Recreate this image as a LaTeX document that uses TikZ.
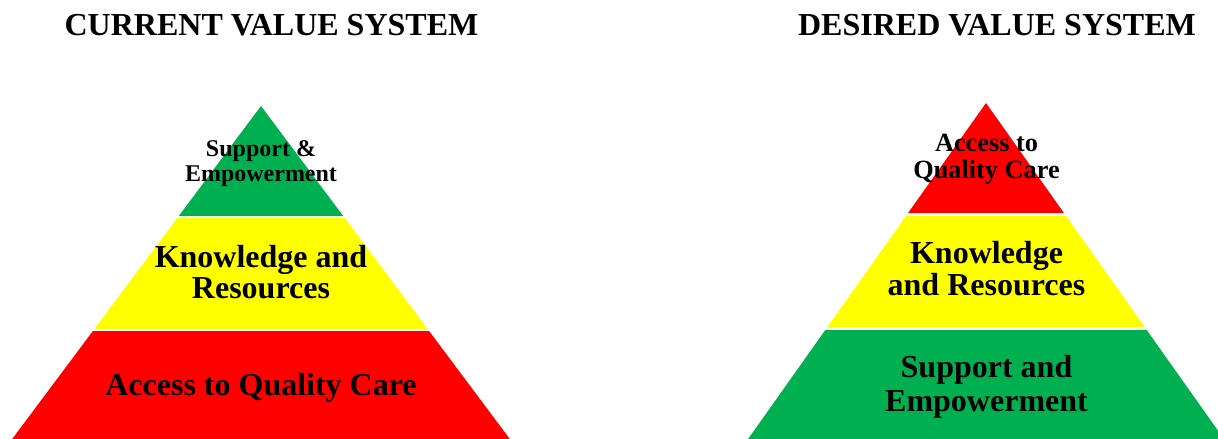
\documentclass[tikz,border=0pt]{standalone}
\usepackage{fontspec}
\setmainfont{Liberation Serif}
\definecolor{tgreen}{HTML}{00B050}
\definecolor{tyellow}{HTML}{FFFF00}
\definecolor{tred}{HTML}{FF0000}
\begin{document}
\begin{tikzpicture}[x=1pt,y=-1pt,
  title/.style={anchor=base,inner sep=0pt,font=\bfseries\fontsize{32}{32}\selectfont},
  big/.style={anchor=base,inner sep=0pt,font=\bfseries\fontsize{32}{32}\selectfont},
  small/.style={anchor=base,inner sep=0pt,font=\bfseries\fontsize{24}{24}\selectfont},
  mid/.style={anchor=base,inner sep=0pt,font=\bfseries\fontsize{26.3}{26.3}\selectfont}]
\useasboundingbox (0,0) rectangle (1218,439);
\clip (0,0) rectangle (1218,439);
\fill[white] (0,0) rectangle (1218,439);
% titles
\node[title] (t1) at (271.5,35) {CURRENT VALUE SYSTEM};
\node[title] (t2) at (997,35) {DESIRED VALUE SYSTEM};
% left pyramid
\fill[tgreen] (261,106) -- (343.2,216) -- (178.8,216) -- cycle;
\fill[tyellow] (177.3,218) -- (344.7,218) -- (427.6,329) -- (94.4,329) -- cycle;
\fill[tred] (92.9,331) -- (429.1,331) -- (509.8,439) -- (12.2,439) -- cycle;
% right pyramid
\fill[tred] (986,103) -- (1063.9,213) -- (908.1,213) -- cycle;
\fill[tyellow] (906,216) -- (1066,216) -- (1144.6,327) -- (827.4,327) -- cycle;
\fill[tgreen] (825.3,330) -- (1146.7,330) -- (1223.9,439) -- (748.1,439) -- cycle;
% left labels
\node[small] (la1) at (261,156) {Support \&};
\node[small] (la2) at (261,181) {Empowerment};
\node[big] (lb1) at (261,267) {Knowledge and};
\node[big] (lb2) at (261,298.5) {Resources};
\node[big] (lc1) at (261,395) {Access to Quality Care};
% right labels
\node[mid] (ra1) at (986.5,151) {Access to};
\node[mid] (ra2) at (986.5,178) {Quality Care};
\node[big] (rb1) at (986.5,263) {Knowledge};
\node[big] (rb2) at (986.5,295) {and Resources};
\node[big] (rc1) at (986.5,377.5) {Support and};
\node[big] (rc2) at (986.5,411) {Empowerment};
\end{tikzpicture}
\end{document}
